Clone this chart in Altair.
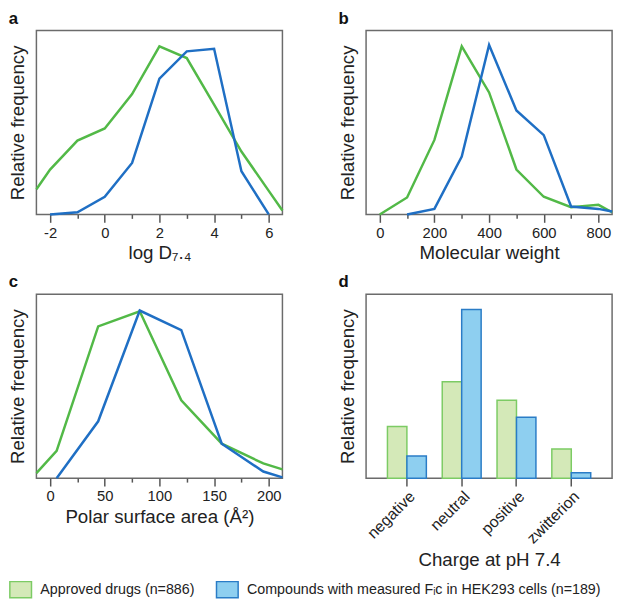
import altair as alt
import pandas as pd

FONT = "Liberation Sans"
SERIES = ["Approved drugs (n=886)", "Compounds with measured Fᵢc in HEK293 cells (n=189)"]
LINE_COLORS = ["#52b947", "#1f6fc4"]
BAR_FILLS = ["#d4e9b8", "#8ecff0"]
BAR_STROKES = ["#7ccb64", "#2a7cc6"]

# Panel a: log D7.4
logd_x_drugs = [-2.5, -2, -1, 0, 1, 2, 3, 4, 5, 6, 6.5]
logd_drugs = [0.137, 0.244, 0.401, 0.467, 0.654, 0.913, 0.850, 0.597, 0.342, 0.128, 0.021]
logd_x_hek = [-2, -1, 0, 1, 2, 3, 4, 5, 6]
logd_hek = [0.0, 0.012, 0.096, 0.28, 0.738, 0.886, 0.90, 0.235, 0.0]

# Panel b: molecular weight
mw_x_drugs = [0, 100, 200, 300, 400, 500, 600, 700, 800, 850]
mw_drugs = [0.0, 0.092, 0.405, 0.913, 0.663, 0.244, 0.096, 0.039, 0.052, 0.012]
mw_x_hek = [100, 200, 300, 400, 500, 600, 700, 800, 850]
mw_hek = [0.0, 0.030, 0.315, 0.921, 0.565, 0.431, 0.043, 0.030, 0.016]

# Panel c: polar surface area
psa_x_drugs = [-12.5, 6, 44, 82, 120, 157, 195, 212.5]
psa_drugs = [0.027, 0.148, 0.825, 0.907, 0.423, 0.1875, 0.08, 0.048]
psa_x_hek = [6, 44, 82, 120, 157, 195, 212.5]
psa_hek = [0.0, 0.309, 0.911, 0.804, 0.1875, 0.036, 0.004]

# Panel d: charge at pH 7.4
charge_cats = ["negative", "neutral", "positive", "zwitterion"]
charge_drugs = [0.281, 0.524, 0.424, 0.159]
charge_hek = [0.12, 0.916, 0.331, 0.029]

W, H = 250, 187


def line_df(xd, yd, xh, yh):
    return pd.concat([
        pd.DataFrame({"x": xd, "v": yd, "series": SERIES[0]}),
        pd.DataFrame({"x": xh, "v": yh, "series": SERIES[1]}),
    ], ignore_index=True)


def panel_title(t):
    return alt.TitleParams(text=t, anchor="start", frame="bounds", fontSize=17,
                           fontWeight="bold", font=FONT, offset=3, color="#111")


y_axis = alt.Axis(title="Relative frequency", labels=False, ticks=False, domain=False,
                  grid=False, titlePadding=9)


def line_panel(df, label, xtitle, domain, tick_values, major_test):
    cond_size = {"condition": {"test": major_test, "value": 8}, "value": 4}
    xaxis = alt.Axis(title=xtitle, values=tick_values, tickSize=cond_size,
                     labelExpr=f"({major_test}) ? replace(datum.label, '\u2212', '-') : ''",
                     labelPadding=3, titlePadding=4)
    base = alt.Chart(df).encode(
        x=alt.X("x:Q", scale=alt.Scale(domain=domain, nice=False, zero=False), axis=xaxis),
        y=alt.Y("v:Q", scale=alt.Scale(domain=[0, 1], nice=False), axis=y_axis),
        order="x:Q",
    )
    layers = [
        base.transform_filter(alt.datum.series == s).mark_line(strokeWidth=2.5, color=col)
        for s, col in zip(SERIES, LINE_COLORS)
    ]
    return alt.layer(*layers, title=panel_title(label)).properties(width=W, height=H)


a = line_panel(line_df(logd_x_drugs, logd_drugs, logd_x_hek, logd_hek), "a", "log D₇.₄",
               [-2.5, 6.5], list(range(-2, 7)), "datum.value % 2 === 0")
b = line_panel(line_df(mw_x_drugs, mw_drugs, mw_x_hek, mw_hek), "b", "Molecular weight",
               [-50, 850], list(range(0, 801, 100)), "datum.value % 200 === 0")
c = line_panel(line_df(psa_x_drugs, psa_drugs, psa_x_hek, psa_hek), "c", "Polar surface area (Å²)",
               [-12.5, 212.5], list(range(0, 201, 25)), "datum.value % 50 === 0")

bar_df = pd.concat([
    pd.DataFrame({"charge": charge_cats, "v": charge_drugs, "series": SERIES[0]}),
    pd.DataFrame({"charge": charge_cats, "v": charge_hek, "series": SERIES[1]}),
], ignore_index=True)

legend_spec = alt.Legend(
    orient="none", legendX=-28, legendY=556, direction="horizontal", title=None,
    symbolType="M-1,-0.75L1,-0.75L1,0.75L-1,0.75Z", symbolSize=484, symbolStrokeWidth=1.5,
    labelFontSize=14.5, labelFont=FONT, labelColor="#222", labelLimit=400, labelOffset=8,
    columnPadding=19, columns=2,
)

d = alt.Chart(bar_df, title=panel_title("d")).mark_bar(strokeWidth=1.5).encode(
    x=alt.X("charge:N", sort=charge_cats,
            scale=alt.Scale(paddingInner=0.29, paddingOuter=0.39),
            axis=alt.Axis(title="Charge at pH 7.4", labelAngle=-45, tickSize=8,
                          labelFontSize=16, labelPadding=2, titlePadding=5)),
    xOffset=alt.XOffset("series:N", sort=SERIES, scale=alt.Scale(paddingInner=0, paddingOuter=0)),
    y=alt.Y("v:Q", scale=alt.Scale(domain=[0, 1], nice=False), axis=y_axis),
    fill=alt.Fill("series:N", scale=alt.Scale(domain=SERIES, range=BAR_FILLS), legend=legend_spec),
    stroke=alt.Stroke("series:N", scale=alt.Scale(domain=SERIES, range=BAR_STROKES), legend=legend_spec),
).properties(width=W, height=H)

row1 = alt.hconcat(a, b, spacing=50)
row2 = alt.hconcat(c, d, spacing=50).resolve_scale(stroke="shared", fill="shared")

chart = alt.vconcat(row1, row2, spacing=9).resolve_scale(
    stroke="shared", fill="shared"
).properties(
    padding={"left": 8, "top": 4, "right": 0, "bottom": 0},
    background="white",
).configure_view(
    stroke="#6b6b6b", strokeWidth=1.5
).configure_axis(
    labelFont=FONT, titleFont=FONT, labelFontSize=15, titleFontSize=19,
    titleFontWeight="normal", labelColor="#222", titleColor="#222",
    tickColor="#555", tickWidth=1.5, domain=False, grid=False,
)

chart.save("out.html", embed_options={"renderer": "svg", "actions": False})
